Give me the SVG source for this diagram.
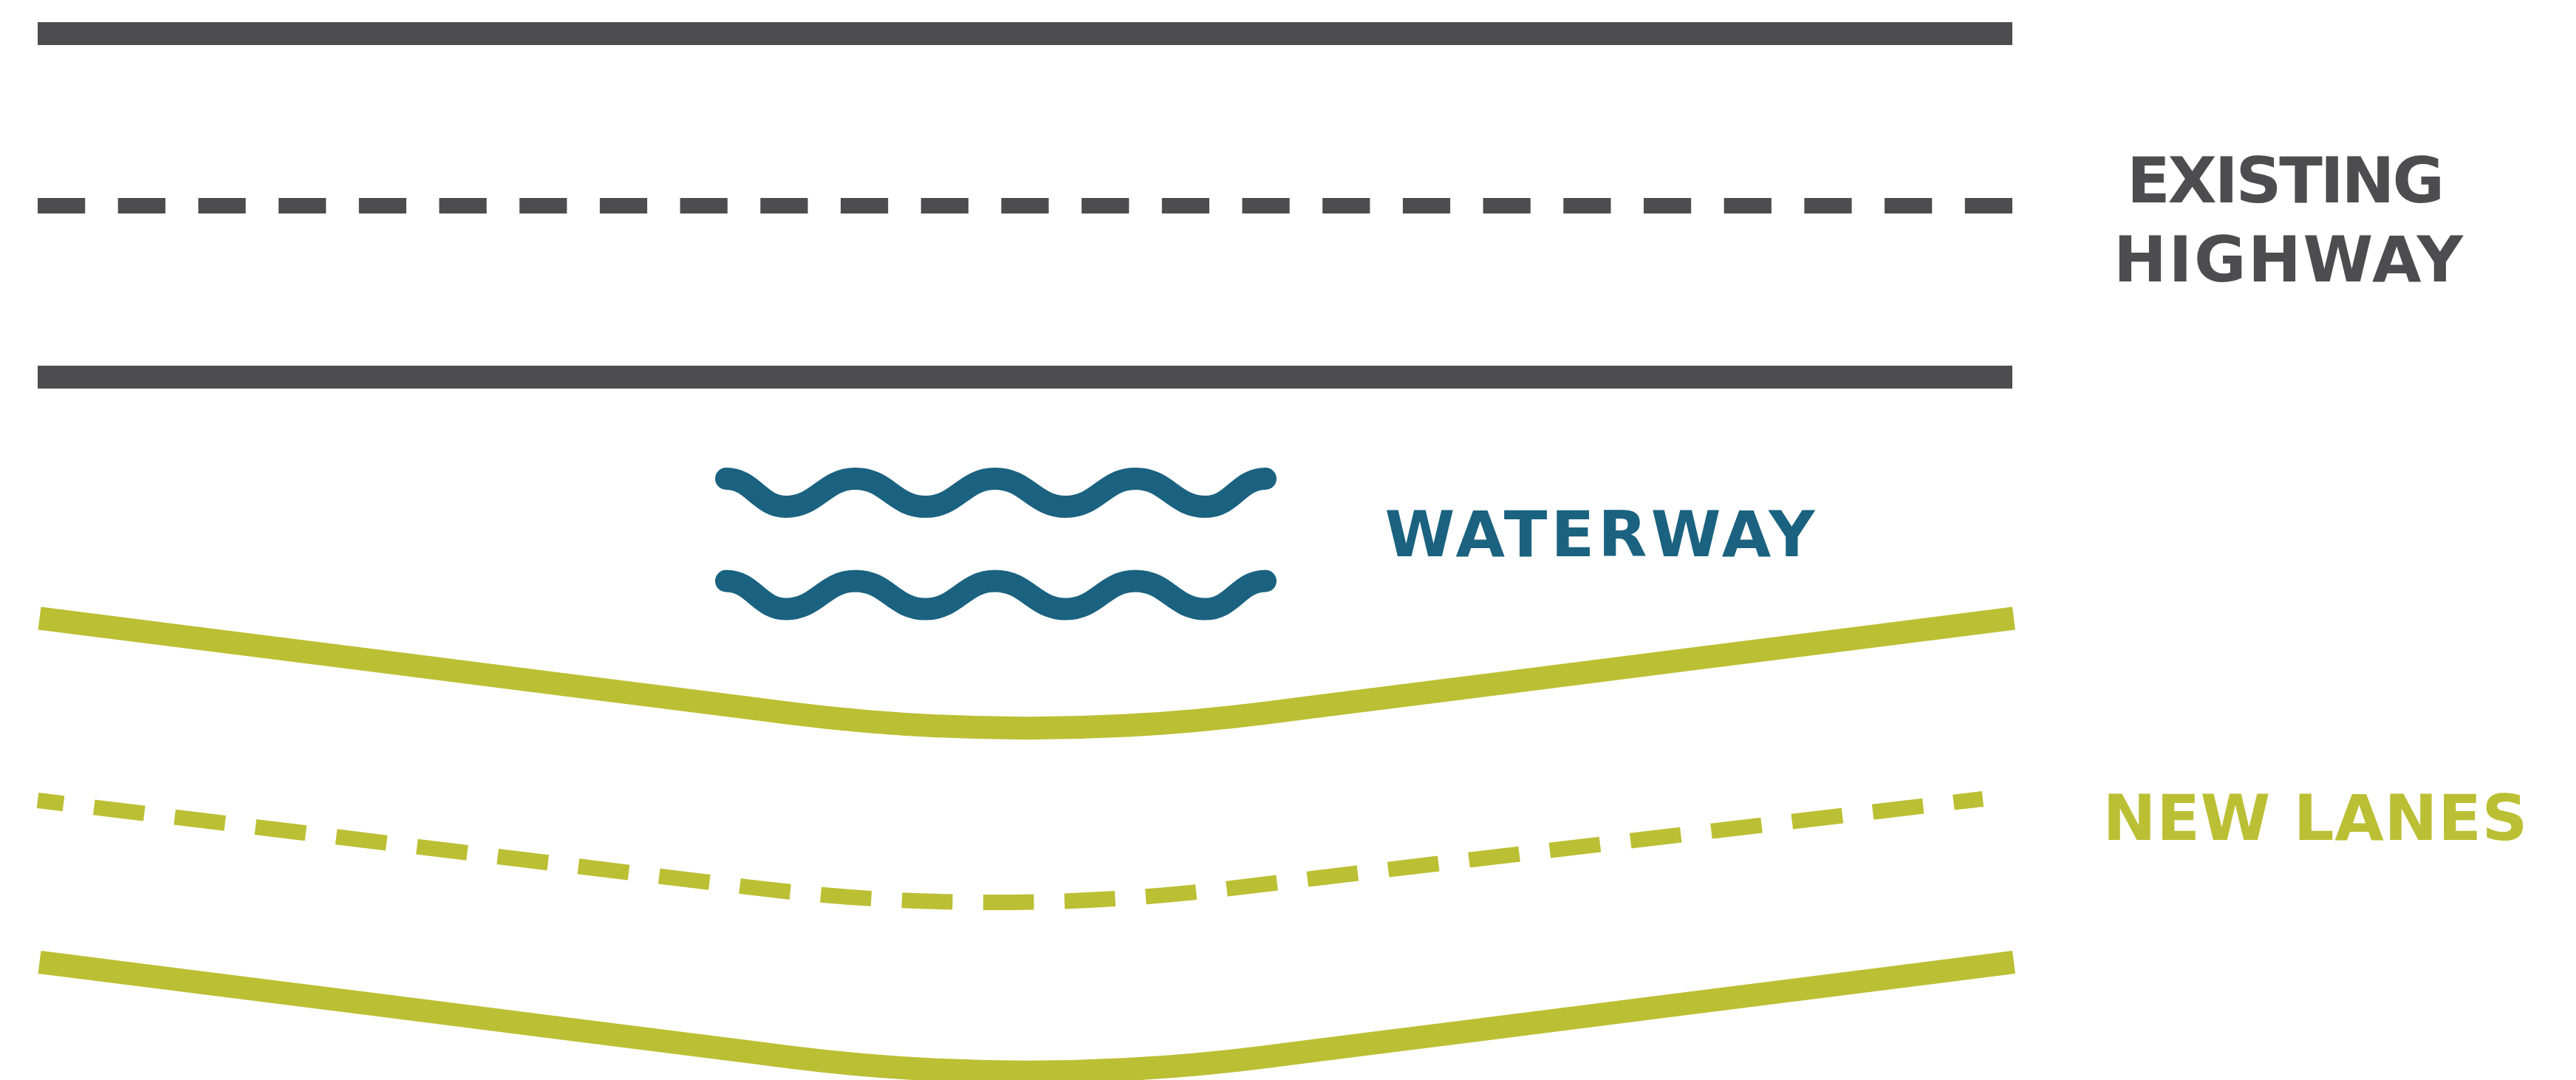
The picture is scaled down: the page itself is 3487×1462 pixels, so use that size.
<svg xmlns="http://www.w3.org/2000/svg" width="3487" height="1462" viewBox="0 0 3487 1462">
  <style>
    .hw { stroke: #4d4d4f; fill: none; stroke-linecap: butt; }
    .nl { stroke: #bbbf33; fill: none; stroke-linecap: butt; stroke-linejoin: round; }
    .wave { stroke: #1a6280; fill: none; stroke-linecap: round; stroke-linejoin: round; }
    .lbl { font-family: "DejaVu Sans", "Liberation Sans", sans-serif; font-weight: 700; font-size: 86px; text-anchor: middle; }
  </style>
  <defs>
    <path id="wavePath" d="M983,648 C1019,648 1028,686 1064,686 C1106,686 1116,648 1158,648 C1201,648 1210,686 1253,686 C1295,686 1305,648 1347,648 C1390,648 1400,686 1443,686 C1485,686 1495,648 1537,648 C1580,648 1589,686 1632,686 C1668,686 1677,648 1713,648"/>
    <path id="lanePath" d="M53.5,837 L1068,965.3 Q1390,1006 1712,965.3 L2726,837"/>
  </defs>
  <rect width="3487" height="1462" fill="#ffffff"/>

  <g id="existing-highway">
    <line class="hw" x1="51" y1="45.5" x2="2724" y2="45.5" stroke-width="31"/>
    <line class="hw" x1="51" y1="278.5" x2="2724" y2="278.5" stroke-width="21" stroke-dasharray="64.2 44.5"/>
    <line class="hw" x1="51" y1="510.5" x2="2724" y2="510.5" stroke-width="31"/>
  </g>

  <g id="waterway">
    <use href="#wavePath" class="wave" stroke-width="30"/>
    <use href="#wavePath" class="wave" stroke-width="30" transform="translate(0,138.5)"/>
  </g>

  <g id="new-lanes">
    <use href="#lanePath" class="nl" stroke-width="31"/>
    <path class="nl" d="M51,1083.5 L1020,1201.7 Q1342,1241 1665,1202.6 L2684,1081.5" stroke-width="21" stroke-dasharray="68.6 41.5" stroke-dashoffset="33.3"/>
    <use href="#lanePath" class="nl" stroke-width="31" transform="translate(0,465.5)"/>
  </g>

  <g id="labels">
    <g id="label-existing-highway" fill="#4d4d4f">
      <text class="lbl" x="3094" y="274" textLength="430" lengthAdjust="spacing">EXISTING</text>
      <text class="lbl" x="3097.5" y="381" textLength="473" lengthAdjust="spacing">HIGHWAY</text>
    </g>
    <g id="label-waterway" fill="#1a6280">
      <text class="lbl" x="2165.5" y="753" textLength="582" lengthAdjust="spacing">WATERWAY</text>
    </g>
    <g id="label-new-lanes" fill="#bbbf33">
      <text class="lbl" x="3134" y="1137" textLength="575" lengthAdjust="spacing">NEW LANES</text>
    </g>
  </g>
</svg>
